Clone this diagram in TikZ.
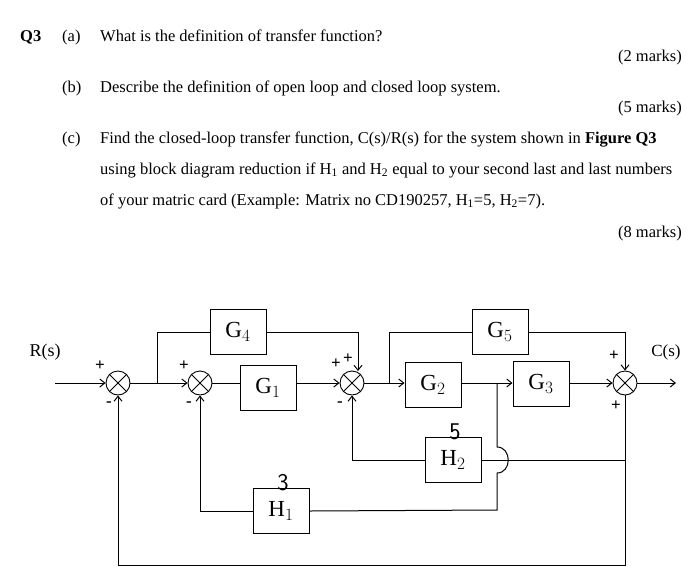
\documentclass[tikz,border=0pt]{standalone}
\usepackage{fontspec}
\setmainfont{Liberation Serif}
\usetikzlibrary{arrows.meta}
\begin{document}
\begin{tikzpicture}[x=1pt,y=-1pt,
  blk/.style={draw,line width=1pt,minimum width=56pt,minimum height=45pt,inner sep=0pt,font=\fontsize{23}{23}\selectfont},
  sj/.style={draw,circle,line width=0.9pt,minimum size=24pt,inner sep=0pt},
  ln/.style={line width=1pt},
  ar/.style={ln,-{Straight Barb[length=5pt,width=8pt]}},
  txt/.style={anchor=base west,font=\fontsize{16.5}{16.5}\selectfont,inner sep=0pt},
  mk/.style={anchor=base east,font=\fontsize{16.5}{16.5}\selectfont,inner sep=0pt},
  sg/.style={font=\fontsize{17}{17}\selectfont\bfseries,inner sep=0pt}]
\useasboundingbox (0,0) rectangle (700,581);
% question text
\node[txt,font=\fontsize{16.5}{16.5}\selectfont\bfseries] (q) at (20,41) {Q3};
\node[txt] (a) at (62,41) {(a)};
\node[txt] (at) at (100,41) {What is the definition of transfer function?};
\node[mk] (am) at (682,61) {(2 marks)};
\node[txt] (b) at (62,92) {(b)};
\node[txt] (bt) at (100,92) {Describe the definition of open loop and closed loop system.};
\node[mk] (bm) at (682,112) {(5 marks)};
\node[txt] (c) at (62,143) {(c)};
\node[txt] (c1) at (100,143) {Find the closed-loop transfer function, C(s)/R(s) for the system shown in \textbf{Figure Q3}};
\node[txt] (c2) at (100,174) {using block diagram reduction if H\textsubscript{1} and H\textsubscript{2} equal to your second last and last numbers};
\node[txt] (c3) at (100,205) {of your matric card (Example: Matrix no CD190257, H\textsubscript{1}=5, H\textsubscript{2}=7).};
\node[mk] (cm) at (682,237) {(8 marks)};
% junctions
\foreach \n/\x in {s1/118,s2/200,s3/352,s4/625}{
  \node[sj] (\n) at (\x,383) {};
  \draw[line width=0.9pt] (\n.north west)--(\n.south east) (\n.north east)--(\n.south west);
}
% blocks
\node[blk] (g4) at (238,332) {G$_4$};
\node[blk] (g1) at (268,388) {G$_1$};
\node[blk] (g2) at (433,385) {G$_2$};
\node[blk] (g5) at (500,332) {G$_5$};
\node[blk] (g3) at (541,384) {G$_3$};
\node[blk] (h2) at (453,460) {H$_2$};
\node[blk] (h1) at (281,511) {H$_1$};
\node[font=\sffamily\fontsize{24}{24}\selectfont,inner sep=0pt] (n5) at (455,432) {5};
\node[font=\sffamily\fontsize{24}{24}\selectfont,inner sep=0pt] (n3) at (283,483) {3};
% labels
\node[font=\fontsize{18}{18}\selectfont] (rs) at (45,352) {R(s)};
\node[font=\fontsize{17}{17}\selectfont] (cs) at (666,352) {C(s)};
\coordinate (rin) at (55,383);
\coordinate (cout) at (676,383);
\coordinate (p1) at (157,383);
\coordinate (p3) at (389,383);
\coordinate (p2) at (497,383);
% forward path
\draw[ar] (rin) -- (s1.west);
\draw[ar] (s1.east) -- (s2.west);
\draw[ln] (s2.east) -- (g1.west|-s2);
\draw[ar] (g1.east|-s3) -- (s3.west);
\draw[ar] (s3.east) -- (g2.west|-s3);
\draw[ar] (g2.east|-s3) -- (g3.west|-s3);
\draw[ar] (g3.east|-s4) -- (s4.west);
\draw[ar] (s4.east) -- (cout);
% G4 path
\draw[ln] (p1) |- (g4.west);
\draw[ar] (g4.east) -| (358,371);
% G5 path
\draw[ln] (p3) |- (g5.west);
\draw[ar] (g5.east) -| (s4.north);
% H2 loop
\draw[ln] (s4.south) |- (h2.east);
\draw[ar] (h2.west) -| (s3.south);
% H1 loop with hump
\draw[ln] (p2) -- (497,447) .. controls (512,447) and (512,473) .. (497,473) -- (497,510) -- (h1.east);
\draw[ar] (h1.west) -| (s2.south);
% outer loop
\draw[ar] (s4.south) -- (625,565) -| (s1.south);
% signs
\node[sg] (a1) at (100,366) {+};
\node[sg] (a2) at (109,404) {-};
\node[sg] (a3) at (184,366) {+};
\node[sg] (a4) at (189,404) {-};
\node[sg] (a5) at (336,364) {+};
\node[sg] (a6) at (348,359) {+};
\node[sg] (a7) at (340,404) {-};
\node[sg] (a8) at (614,356) {+};
\node[sg] (a9) at (616,406) {+};
\end{tikzpicture}
\end{document}
